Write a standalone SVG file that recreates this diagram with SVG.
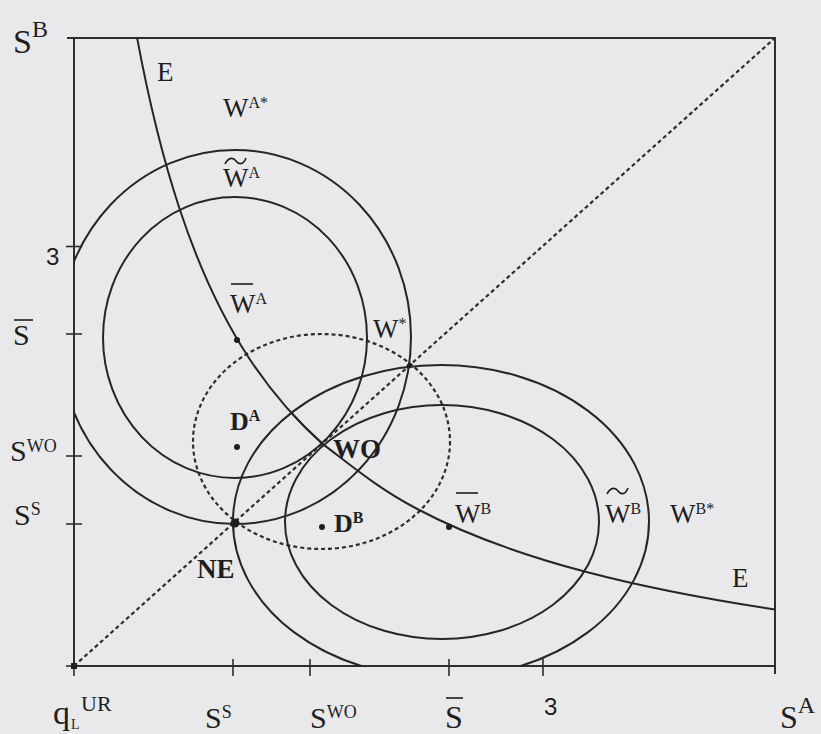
<svg xmlns="http://www.w3.org/2000/svg" width="821" height="734" viewBox="0 0 821 734">
<defs>
<clipPath id="plot"><rect x="74" y="38" width="701" height="628"/></clipPath>
<style>
.ax{stroke:#2e2e2e;stroke-width:2;fill:none}
.tk{stroke:#2e2e2e;stroke-width:1.6;fill:none}
.cv{stroke:#262626;stroke-width:2;fill:none}
.dash{stroke:#2e2e2e;stroke-width:2.2;fill:none;stroke-dasharray:4 3}
.t{font-family:"Liberation Serif","Times New Roman",serif;fill:#1e1e1e}
.b{font-weight:bold}
.sans{font-family:"Liberation Sans",Arial,sans-serif;fill:#1e1e1e}
.dot{fill:#1e1e1e}
.bar{stroke:#1e1e1e;stroke-width:1.6;fill:none}
</style>
</defs>
<rect x="0" y="0" width="821" height="734" fill="#e9e9eb"/>

<g id="axes">
<line class="ax" x1="67" y1="38" x2="776" y2="38"/>
<line class="ax" x1="74" y1="38" x2="74" y2="666"/>
<line class="ax" x1="74" y1="666" x2="776" y2="666"/>
<line class="ax" x1="775" y1="37" x2="775" y2="674"/>
<line class="tk" x1="66" y1="246.5" x2="82" y2="246.5"/>
<line class="tk" x1="66" y1="334" x2="82" y2="334"/>
<line class="tk" x1="66" y1="456" x2="82" y2="456"/>
<line class="tk" x1="66" y1="524" x2="82" y2="524"/>
<line class="tk" x1="66" y1="666" x2="82" y2="666"/>
<line class="tk" x1="74" y1="659" x2="74" y2="676"/>
<line class="tk" x1="233" y1="659" x2="233" y2="676"/>
<line class="tk" x1="310" y1="659" x2="310" y2="676"/>
<line class="tk" x1="449" y1="659" x2="449" y2="676"/>
<line class="tk" x1="543" y1="659" x2="543" y2="676"/>
<rect class="dot" x="71" y="663" width="6" height="6"/>
</g>

<g id="axis-labels">
<text class="t" x="13" y="53" font-size="34">S<tspan font-size="24" dy="-16">B</tspan></text>
<text class="sans" x="46" y="265" font-size="24">3</text>
<text class="t" x="13" y="345" font-size="30">S</text>
<line class="bar" x1="14" y1="320" x2="33" y2="320"/>
<text class="t" x="10" y="461" font-size="30">S<tspan font-size="18" dy="-9">WO</tspan></text>
<text class="t" x="14" y="525" font-size="30">S<tspan font-size="18" dy="-10">S</tspan></text>
<text class="t" x="53" y="724" font-size="34">q</text>
<text class="t" x="71" y="729" font-size="14">L</text>
<text class="t" x="81" y="711" font-size="22">UR</text>
<text class="t" x="205" y="728" font-size="30">S<tspan font-size="18" dy="-10">S</tspan></text>
<text class="t" x="310" y="728" font-size="30">S<tspan font-size="18" dy="-10">WO</tspan></text>
<text class="t" x="445" y="728" font-size="32">S</text>
<line class="bar" x1="446" y1="698" x2="463" y2="698"/>
<text class="sans" x="544" y="715" font-size="24">3</text>
<text class="t" x="780" y="728" font-size="32">S<tspan font-size="24" dy="-15">A</tspan></text>
</g>

<g id="connectors" clip-path="url(#plot)">
<line id="diagonal" class="dash" x1="74" y1="666" x2="775" y2="38"/>
<ellipse id="dashed-circle" class="dash" cx="321.5" cy="441.5" rx="128.5" ry="107.5"/>
<ellipse id="WA-inner" class="cv" cx="235" cy="337.5" rx="132" ry="140.5"/>
<ellipse id="WA-outer" class="cv" cx="235" cy="337" rx="176" ry="187"/>
<ellipse id="WB-inner" class="cv" cx="442" cy="522" rx="157" ry="117"/>
<ellipse id="WB-outer" class="cv" cx="441" cy="521.5" rx="208" ry="156.5"/>
<path id="E-curve" class="cv" d="M137.1,37.8 C151.1,113 165.2,165.1 179.2,207.7 C202.6,278.7 225.9,322.9 249.25,358.5 C273.55,395.5 297.9,421.8 322.2,443.6 C346.6,461.8 375.9,487.2 417.3,509 C457,530 506.3,550.8 585.6,571.8 C633.1,584.3 691.3,596.9 775,609.5"/>
<path id="E-thick" class="cv" stroke-width="4" d="M292,413.7 C302.05,424.7 312.15,434.6 322.2,443.6"/>
</g>

<g id="node-E-top"><text class="t" x="157" y="81" font-size="27">E</text></g>
<g id="node-WAstar"><text class="t" x="223" y="117" font-size="27">W<tspan font-size="16" dy="-9">A*</tspan></text></g>
<g id="node-WtildeA">
<path class="bar" d="M225,164 C229,156 234,158 236,161 S243,166 246,158"/>
<text class="t" x="223" y="187" font-size="27">W<tspan font-size="16" dy="-9">A</tspan></text>
</g>
<g id="node-WbarA">
<line class="bar" x1="231" y1="284" x2="253" y2="284"/>
<text class="t" x="230" y="313" font-size="27">W<tspan font-size="16" dy="-9">A</tspan></text>
<circle class="dot" cx="237" cy="340" r="3"/>
</g>
<g id="node-Wstar">
<text class="t" x="373" y="338" font-size="27">W<tspan font-size="16" dy="-9">*</tspan></text>
<circle class="dot" cx="409" cy="366" r="2.5"/>
</g>
<g id="node-DA">
<text class="t b" x="230" y="430" font-size="26">D<tspan font-size="16" dy="-9">A</tspan></text>
<circle class="dot" cx="237" cy="447" r="3"/>
</g>
<g id="node-WO"><text class="t b" x="333" y="458" font-size="27">WO</text></g>
<g id="node-NE">
<circle class="dot" cx="235" cy="523" r="4.5"/>
<text class="t b" x="197" y="578" font-size="27">NE</text>
</g>
<g id="node-DB">
<circle class="dot" cx="322" cy="527" r="3"/>
<text class="t b" x="334" y="532" font-size="26">D<tspan font-size="16" dy="-9">B</tspan></text>
</g>
<g id="node-WbarB">
<line class="bar" x1="456" y1="493" x2="478" y2="493"/>
<text class="t" x="455" y="523" font-size="27">W<tspan font-size="16" dy="-9">B</tspan></text>
<circle class="dot" cx="449" cy="527" r="3"/>
</g>
<g id="node-WtildeB">
<path class="bar" d="M607,494 C611,486 616,488 618,491 S625,496 628,488"/>
<text class="t" x="605" y="523" font-size="27">W<tspan font-size="16" dy="-9">B</tspan></text>
</g>
<g id="node-WBstar"><text class="t" x="670" y="523" font-size="27">W<tspan font-size="16" dy="-9">B*</tspan></text></g>
<g id="node-E-bottom"><text class="t" x="732" y="587" font-size="27">E</text></g>
</svg>
